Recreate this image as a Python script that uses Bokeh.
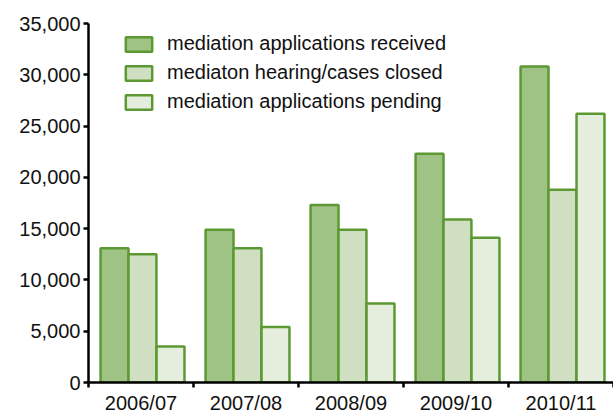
from bokeh.plotting import figure
from bokeh.models import ColumnDataSource, Range1d, FixedTicker, NumeralTickFormatter, Legend, LegendItem
from bokeh.embed import file_html
from bokeh.resources import INLINE

categories = ["2006/07", "2007/08", "2008/09", "2009/10", "2010/11"]
received = [13100, 14900, 17300, 22300, 30800]
closed = [12500, 13100, 14900, 15900, 18800]
pending = [3500, 5400, 7700, 14100, 26200]
series_names = ["mediation applications received",
                "mediaton hearing/cases closed",
                "mediation applications pending"]
y_ticks = [0, 5000, 10000, 15000, 20000, 25000, 30000, 35000]

fills = ["#9fc384", "#d0dfc2", "#e5eedc"]
outline = "#5d9933"
offsets = [0.248, 0.514, 0.781]
bar_w = 0.266

p = figure(width=613, height=416, output_backend="svg", toolbar_location=None,
           x_range=Range1d(0, len(categories)), y_range=Range1d(0, 35000),
           min_border_left=88, min_border_right=0, min_border_top=23, min_border_bottom=32)
p.outline_line_color = None
p.xgrid.grid_line_color = None
p.ygrid.grid_line_color = None

renderers = []
for vals, fc, off in zip([received, closed, pending], fills, offsets):
    src = ColumnDataSource(dict(x=[i + off for i in range(len(categories))], top=vals))
    r = p.vbar(x="x", top="top", width=bar_w, bottom=0, source=src,
               fill_color=fc, line_color=outline, line_width=2.5)
    renderers.append(r)

# y axis
ya = p.yaxis[0]
ya.ticker = FixedTicker(ticks=y_ticks)
ya.formatter = NumeralTickFormatter(format="0,0")
ya.axis_line_width = 2.5
ya.axis_line_color = "black"
ya.major_tick_line_width = 2.5
ya.major_tick_out = 5
ya.major_tick_in = 0
ya.minor_tick_line_color = None
ya.major_label_standoff = 3
ya.major_label_text_font = "Liberation Sans"
ya.major_label_text_font_size = "20px"
ya.major_label_text_color = "#111111"

# x axis
xa = p.xaxis[0]
xa.ticker = FixedTicker(ticks=[i + 0.5 for i in range(len(categories))],
                        minor_ticks=list(range(len(categories) + 1)))
xa.major_label_overrides = {i + 0.5: c for i, c in enumerate(categories)}
xa.major_tick_line_color = None
xa.major_tick_out = 0
xa.major_tick_in = 0
xa.minor_tick_line_color = "black"
xa.minor_tick_line_width = 2.5
xa.minor_tick_out = 5
xa.minor_tick_in = 0
xa.axis_line_width = 2.5
xa.axis_line_color = "black"
xa.major_label_standoff = 4
xa.major_label_text_font = "Liberation Sans"
xa.major_label_text_font_size = "20px"
xa.major_label_text_color = "#111111"

legend = Legend(items=[LegendItem(label=n, renderers=[r]) for n, r in zip(series_names, renderers)],
                location=(34, 269))
legend.glyph_width = 33
legend.glyph_height = 18
legend.label_height = 23
legend.spacing = 6
legend.padding = 0
legend.margin = 0
legend.label_standoff = 12
legend.border_line_color = None
legend.background_fill_alpha = 0
legend.label_text_font = "Liberation Sans"
legend.label_text_font_size = "20px"
legend.label_text_color = "#111111"
p.add_layout(legend)

open("out.html", "w").write(file_html(p, INLINE))
